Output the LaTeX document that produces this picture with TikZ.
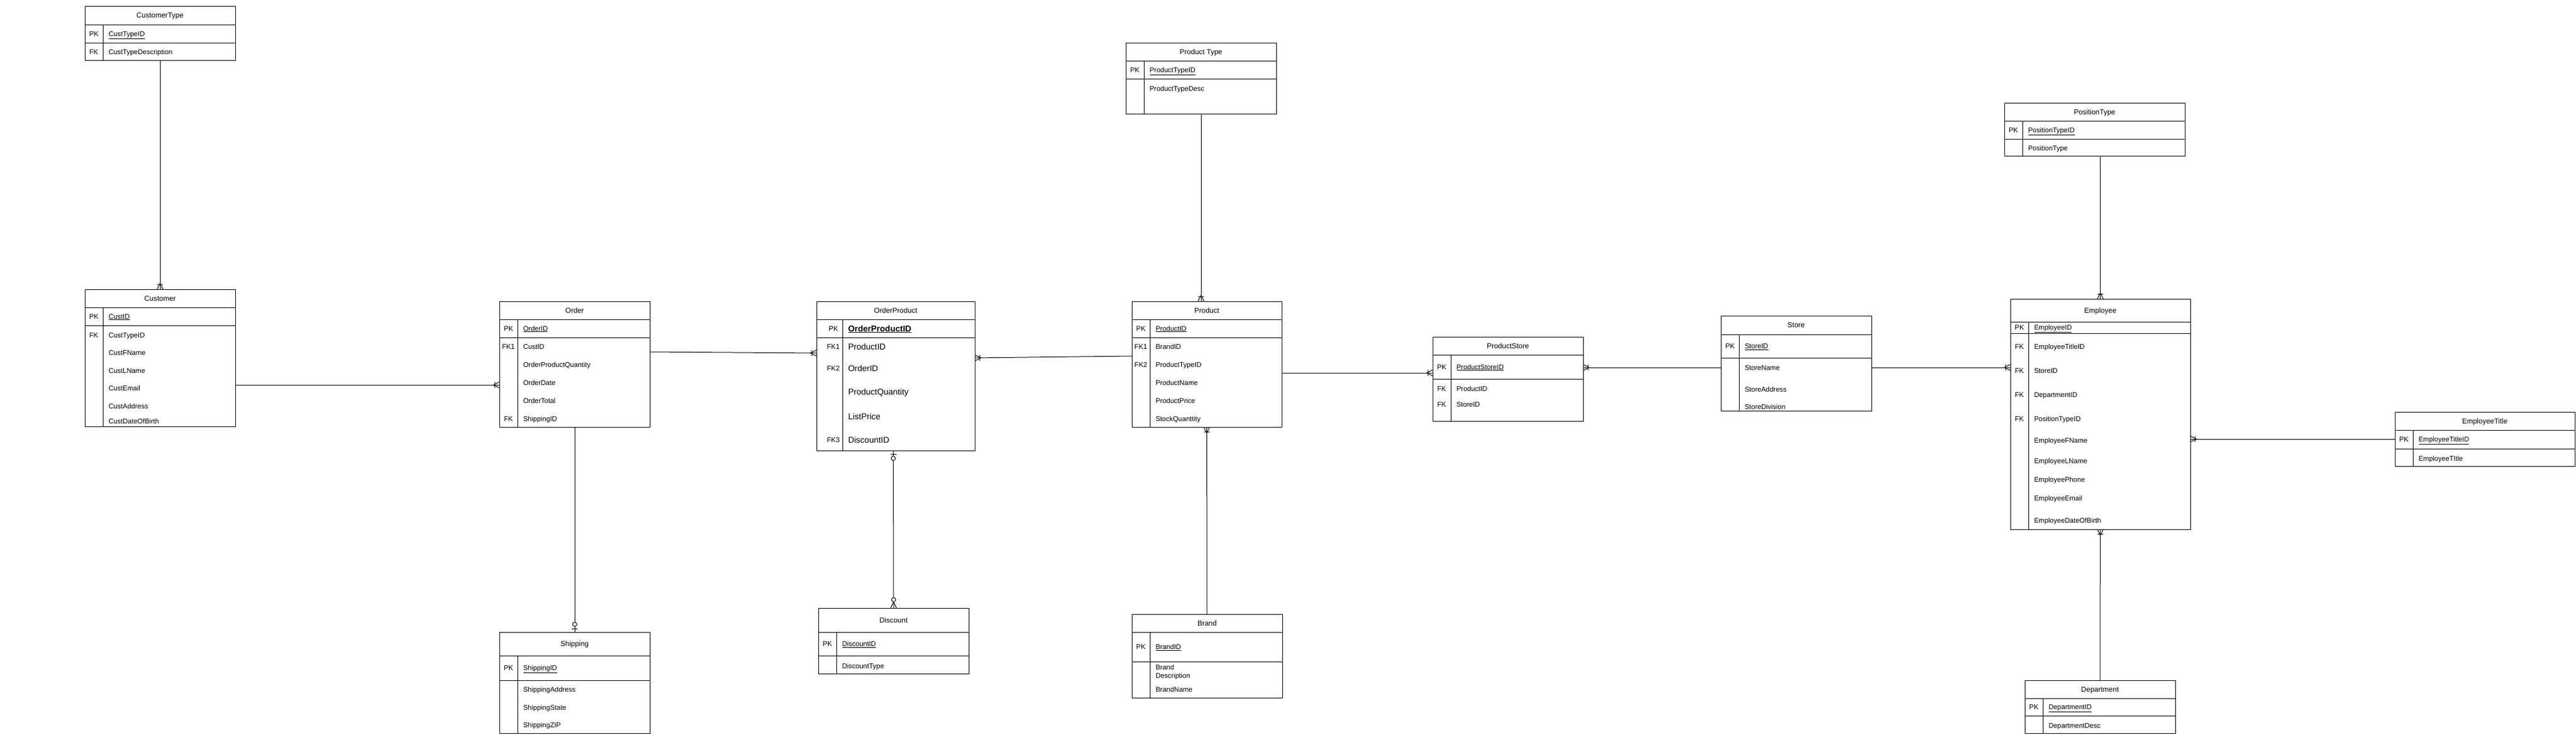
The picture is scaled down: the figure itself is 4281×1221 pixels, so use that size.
\documentclass[tikz,border=0pt]{standalone}
\usepackage{fontspec}
\setmainfont{Liberation Sans}
\usepackage{tikz}

\tikzset{
  tbl/.style={draw, inner sep=0pt, outer sep=0pt, anchor=north west},
  headtxt/.style={font=\fontsize{12}{14}\selectfont, inner sep=0pt, text height=8.6pt, text depth=0pt},
  keytxt/.style={font=\fontsize{11.5}{13}\selectfont, inner sep=0pt, text height=8.2pt, text depth=0pt},
  fieldtxt/.style={keytxt, anchor=west},
  bigtxt/.style={font=\fontsize{14}{16}\selectfont, inner sep=0pt, text height=10pt, text depth=0pt, anchor=west},
  onemany/.pic={\draw (0,-5) -- (10,0) -- (0,5) (8,-5) -- (8,5);},
  zeromany/.pic={\draw (0,-5) -- (10,0) -- (0,5); \draw[fill=white] (14,0) circle (3.5pt);},
  zeroone/.pic={\draw (6,-5) -- (6,5); \draw[fill=white] (13,0) circle (3.5pt);},
}

% [key column width]{name}{left}{top}{right}{bottom}{header line}{pk line}{title}
\newcommand{\ertbl}[9][30]{%
  \node[tbl, minimum width={(#5-#3)*1pt}, minimum height={(#6-#4)*1pt}] (#2) at (#3,#4) {};
  \draw (#3,#7) -- (#5,#7) (#3,#8) -- (#5,#8) ({#3+#1},#7) -- ({#3+#1},#6);
  \node[headtxt] (#2-title) at ({(#3+#5)/2},{(#4+#7)/2}) {#9};
  \node[keytxt] (#2-pk) at ({#3+#1-15},{(#7+#8)/2}) {PK};
}

\begin{document}
\begin{tikzpicture}[x=1pt, y=-1pt, line width=1pt]
\fill[white] (0,0) rectangle (4281,1221);

% customers
\ertbl{custtype}{141}{10}{391}{100}{41}{71}{CustomerType}
\node[fieldtxt] (custtype-id) at (180,56) {\underline{CustTypeID}};
\node[keytxt] (custtype-k1) at (156,86) {FK};
\node[fieldtxt] (custtype-f1) at (180,86) {CustTypeDescription};

\ertbl{customer}{141}{481}{391}{709}{511}{541}{Customer}
\node[fieldtxt] (customer-id) at (180,526) {\underline{CustID}};
\node[keytxt] (customer-k1) at (156,557) {FK};
\foreach \y/\t [count=\i] in {557/CustTypeID, 586/CustFName, 616/CustLName, 645/CustEmail, 675/CustAddress, 700/CustDateOfBirth}
  \node[fieldtxt] (customer-f\i) at (180,\y) {\t};

% orders
\ertbl{order}{830}{501}{1080}{710}{531}{561}{Order}
\node[fieldtxt] (order-id) at (869,546) {\underline{OrderID}};
\node[keytxt] (order-k1) at (845,576) {FK1};
\node[keytxt] (order-k5) at (845,696) {FK};
\foreach \y/\t [count=\i] in {576/CustID, 606/OrderProductQuantity, 636/OrderDate, 666/OrderTotal, 696/ShippingID}
  \node[fieldtxt] (order-f\i) at (869,\y) {\t};

\ertbl[43]{ordprod}{1357}{501}{1620}{749}{531}{561}{OrderProduct}
\node[bigtxt] (ordprod-id) at (1409,546) {\textbf{\underline{OrderProductID}}};
\node[keytxt] (ordprod-k1) at (1385,576) {FK1};
\node[keytxt] (ordprod-k2) at (1385,612) {FK2};
\node[keytxt] (ordprod-k5) at (1385,731) {FK3};
\foreach \y/\t [count=\i] in {576/ProductID, 612/OrderID, 651/ProductQuantity, 692/ListPrice, 731/DiscountID}
  \node[bigtxt] (ordprod-f\i) at (1409,\y) {\t};

\ertbl{shipping}{830}{1051}{1080}{1219.5}{1090}{1131}{Shipping}
\node[fieldtxt] (shipping-id) at (869,1110.5) {\underline{ShippingID}};
\foreach \y/\t [count=\i] in {1146/ShippingAddress, 1176/ShippingState, 1205/ShippingZIP}
  \node[fieldtxt] (shipping-f\i) at (869,\y) {\t};

\ertbl{discount}{1360}{1011}{1610}{1120}{1051}{1090}{Discount}
\node[fieldtxt] (discount-id) at (1399,1070.5) {\underline{DiscountID}};
\node[fieldtxt] (discount-f1) at (1399,1107) {DiscountType};

% products
\ertbl{prodtype}{1871}{71}{2121}{189}{101}{131}{Product Type}
\node[fieldtxt] (prodtype-id) at (1910,116) {\underline{ProductTypeID}};
\node[fieldtxt] (prodtype-f1) at (1910,147) {ProductTypeDesc};

\ertbl{product}{1881}{501}{2130}{710}{531}{561}{Product}
\node[fieldtxt] (product-id) at (1920,546) {\underline{ProductID}};
\node[keytxt] (product-k1) at (1896,576) {FK1};
\node[keytxt] (product-k2) at (1896,606) {FK2};
\foreach \y/\t [count=\i] in {576/BrandID, 606/ProductTypeID, 636/ProductName, 666/ProductPrice, 696/StockQuanttity}
  \node[fieldtxt] (product-f\i) at (1920,\y) {\t};

\ertbl{brand}{1881}{1021}{2131}{1160}{1051}{1100}{Brand}
\node[fieldtxt] (brand-id) at (1920,1075.5) {\underline{BrandID}};
\foreach \y/\t [count=\i] in {1109/Brand, 1123/Description, 1146/BrandName}
  \node[fieldtxt] (brand-f\i) at (1920,\y) {\t};

\ertbl{prodstore}{2381}{560}{2631}{700}{590}{630}{ProductStore}
\node[fieldtxt] (prodstore-id) at (2420,610) {\underline{ProductStoreID}};
\node[keytxt] (prodstore-k1) at (2396,646) {FK};
\node[keytxt] (prodstore-k2) at (2396,672) {FK};
\node[fieldtxt] (prodstore-f1) at (2420,646) {ProductID};
\node[fieldtxt] (prodstore-f2) at (2420,672) {StoreID};

% stores and staff
\ertbl{store}{2860}{525}{3110}{683}{556}{595}{Store}
\node[fieldtxt] (store-id) at (2899,575.5) {\underline{StoreID}};
\foreach \y/\t [count=\i] in {611/StoreName, 647/StoreAddress, 676/StoreDivision}
  \node[fieldtxt] (store-f\i) at (2899,\y) {\t};

\ertbl{postype}{3331}{171}{3631}{259}{201}{231}{PositionType}
\node[fieldtxt] (postype-id) at (3370,216) {\underline{PositionTypeID}};
\node[fieldtxt] (postype-f1) at (3370,246) {PositionType};

\ertbl{employee}{3341}{497}{3640}{880}{535}{554}{Employee}
\node[fieldtxt] (employee-id) at (3380,544.5) {\underline{EmployeeID}};
\foreach \y [count=\i] in {576,616,656,696}
  \node[keytxt] (employee-k\i) at (3356,\y) {FK};
\foreach \y/\t [count=\i] in {576/EmployeeTitleID, 616/StoreID, 656/DepartmentID, 696/PositionTypeID, 732/EmployeeFName, 766/EmployeeLName, 797/EmployeePhone, 828/EmployeeEmail, 865/EmployeeDateOfBirth}
  \node[fieldtxt] (employee-f\i) at (3380,\y) {\t};

\ertbl{emptitle}{3980}{685}{4279}{775}{715}{746}{EmployeeTitle}
\node[fieldtxt] (emptitle-id) at (4019,730.5) {\underline{EmployeeTitleID}};
\node[fieldtxt] (emptitle-f1) at (4019,762) {EmployeeTItle};

\ertbl{dept}{3365}{1131}{3615}{1219.5}{1161}{1190}{Department}
\node[fieldtxt] (dept-id) at (3404,1175.5) {\underline{DepartmentID}};
\node[fieldtxt] (dept-f1) at (3404,1206) {DepartmentDesc};

% relations
\draw (custtype) -- (customer);
\pic[rotate=90] at (customer.north) {onemany};
\draw ([yshift=-45pt]customer.east) -- ([yshift=-34.5pt]order.west);
\pic[rotate=180] at ([yshift=-34.5pt]order.west) {onemany};
\draw ([yshift=20.5pt]order.east) -- ([yshift=38pt]ordprod.west);
\pic[rotate=180] at ([yshift=38pt]ordprod.west) {onemany};
\draw ([yshift=30pt]ordprod.east) -- ([yshift=13.5pt]product.west);
\pic at ([yshift=30pt]ordprod.east) {onemany};
\draw (order) -- (shipping);
\pic[rotate=90] at (shipping.north) {zeroone};
\draw ([xshift=-4pt]ordprod.south) -- (discount.north);
\pic[rotate=270] at ([xshift=-4pt]ordprod.south) {zeroone};
\pic[rotate=90] at (discount.north) {zeromany};
\draw (prodtype.south) -- (prodtype.south |- product.north);
\pic[rotate=90] at (prodtype.south |- product.north) {onemany};
\draw (brand) -- (product);
\pic[rotate=270] at (product.south) {onemany};
\draw ([yshift=-14.5pt]product.east) -- ([yshift=10pt]prodstore.west);
\pic[rotate=180] at ([yshift=10pt]prodstore.west) {onemany};
\draw ([yshift=-7pt]store.west) -- ([yshift=19pt]prodstore.east);
\pic at ([yshift=19pt]prodstore.east) {onemany};
\draw ([yshift=-7pt]store.east) -- ([yshift=77.5pt]employee.west);
\pic[rotate=180] at ([yshift=77.5pt]employee.west) {onemany};
\draw (employee.north |- postype.south) -- (employee.north);
\pic[rotate=90] at (employee.north) {onemany};
\draw (emptitle.west) -- (emptitle.west -| employee.east);
\pic at (emptitle.west -| employee.east) {onemany};
\draw (dept) -- (employee);
\pic[rotate=270] at (employee.south) {onemany};
\end{tikzpicture}
\end{document}
